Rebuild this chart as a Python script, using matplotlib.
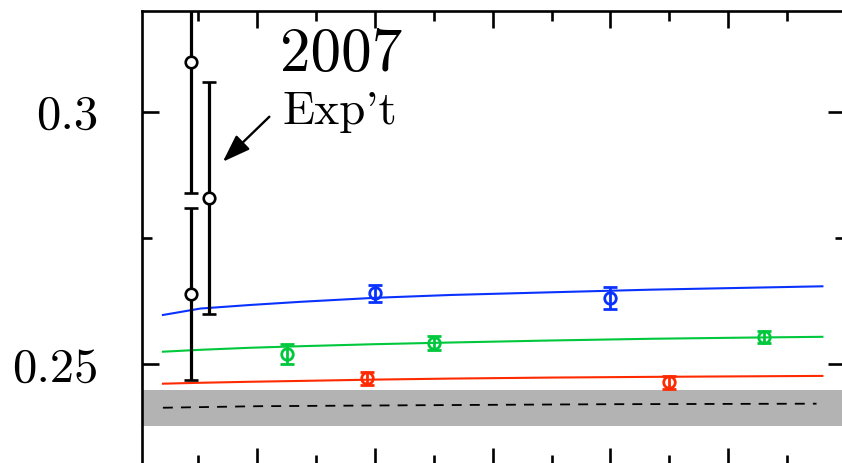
import matplotlib
matplotlib.use("Agg")
import matplotlib.pyplot as plt
from matplotlib.ticker import MultipleLocator

# ---- data ----
curve_x = [0.20, 0.52, 0.94, 1.37, 2.00, 2.64, 3.49, 4.34, 5.19, 5.80]
blue_curve = [0.25976, 0.26104, 0.26174, 0.26237, 0.26316, 0.26372, 0.26425, 0.26477, 0.26516, 0.26544]
green_curve = [0.25249, 0.25287, 0.25327, 0.25358, 0.25398, 0.25431, 0.25471, 0.25505, 0.25529, 0.25544]
red_curve = [0.24616, 0.24634, 0.24654, 0.24671, 0.24697, 0.24717, 0.24737, 0.24751, 0.24762, 0.2477]

dash_x = [0.20, 1.00, 2.40, 4.00, 5.75]
dash_y = [0.2414, 0.2417, 0.2419, 0.2421, 0.2422]

band_lo, band_hi = 0.2378, 0.2449

blue_x = [2.00, 4.00]
blue_y = [0.26405, 0.26312]
blue_e = [0.00172, 0.00214]

green_x = [1.25, 2.50, 5.30]
green_y = [0.25198, 0.25422, 0.2554]
green_e = [0.00198, 0.00139, 0.00125]

red_x = [1.93, 4.50]
red_y = [0.24723, 0.2464]
red_e = [0.00133, 0.00133]

expt_x = [0.437, 0.437, 0.595]
expt_y = [0.3099, 0.2639, 0.2829]
expt_e = [0.0259, 0.0170, 0.0230]

ytick_vals = [0.25, 0.3]
ytick_labels = ["0.25", "0.3"]

BLUE = "#0a32ff"
GREEN = "#00c83c"
RED = "#ff2a00"

fig = plt.figure(figsize=(8.42, 4.63), dpi=100)
ax = fig.add_axes([0.1683, -0.005, 0.835, 0.9819])
ax.set_xlim(0.02, 5.99)
ax.set_ylim(0.23, 0.32)

ax.axhspan(band_lo, band_hi, color="#b3b3b3", lw=0, zorder=1)
ax.plot(dash_x, dash_y, color="k", lw=1.3, ls=(0, (5.5, 4.5)), zorder=2)

ax.plot(curve_x, blue_curve, color=BLUE, lw=1.5, zorder=3)
ax.plot(curve_x, green_curve, color=GREEN, lw=1.5, zorder=3)
ax.plot(curve_x, red_curve, color=RED, lw=1.5, zorder=3)

for xs, ys, es, c in [(blue_x, blue_y, blue_e, BLUE),
                      (green_x, green_y, green_e, GREEN),
                      (red_x, red_y, red_e, RED)]:
    ax.errorbar(xs, ys, yerr=es, fmt="o", color=c, mfc="none", mec=c,
                ms=8.3, mew=2.0, elinewidth=2.0, capsize=5, capthick=2.0, zorder=4)

ax.errorbar(expt_x, expt_y, yerr=expt_e, fmt="o", color="k", mfc="white", mec="k",
            ms=8.3, mew=1.9, elinewidth=2.3, capsize=4.7, capthick=2.3, zorder=5)

ax.annotate("", xy=(0.709, 0.2901), xytext=(1.104, 0.29901),
            arrowprops=dict(arrowstyle="-|>,head_length=0.85,head_width=0.3",
                            color="k", lw=1.7, mutation_scale=20,
                            shrinkA=0, shrinkB=0))

ax.text(1.195, 0.30806, "2007", fontfamily="cmr10", fontsize=44,
        ha="left", va="baseline")
ax.text(1.212, 0.29757, "Exp't", fontfamily="cmr10", fontsize=34,
        ha="left", va="baseline")

ax.xaxis.set_major_locator(MultipleLocator(1))
ax.xaxis.set_minor_locator(MultipleLocator(0.5))
ax.set_yticks(ytick_vals, labels=ytick_labels)
ax.yaxis.set_minor_locator(MultipleLocator(0.025))
ax.tick_params(which="both", direction="in", top=True, right=True, width=1.9)
ax.tick_params(which="major", length=12)
ax.tick_params(which="minor", length=7.2)
ax.tick_params(axis="x", labelbottom=False)
ax.tick_params(axis="y", pad=31)
for lab in ax.get_yticklabels():
    lab.set_fontfamily("cmr10")
    lab.set_fontsize(35)
for s in ax.spines.values():
    s.set_linewidth(1.9)

fig.savefig("out.png", dpi=100)
